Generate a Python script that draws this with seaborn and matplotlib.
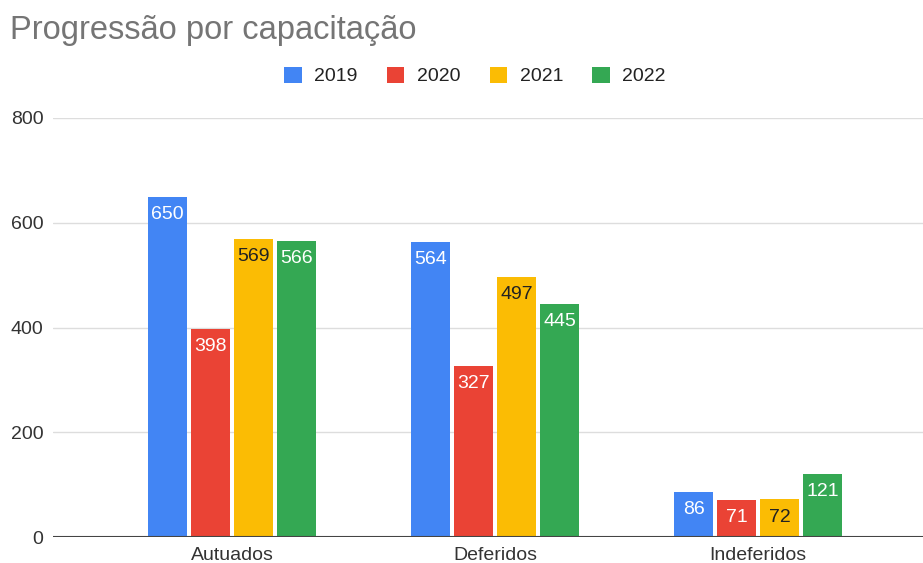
import pandas as pd
import numpy as np
import matplotlib.pyplot as plt
import seaborn as sns

categories = ["Autuados", "Deferidos", "Indeferidos"]
years = ["2019", "2020", "2021", "2022"]
v2019 = [650, 564, 86]
v2020 = [398, 327, 71]
v2021 = [569, 497, 72]
v2022 = [566, 445, 121]
yticks = [0, 200, 400, 600, 800]

colors = ["#4285F4", "#EA4335", "#FBBC04", "#34A853"]
label_colors = ["white", "white", "#222222", "white"]

df = pd.DataFrame({
    "Categoria": categories * 4,
    "Ano": [y for y in years for _ in categories],
    "Valor": v2019 + v2020 + v2021 + v2022,
})

sns.set_theme(style="white")
plt.rcParams['font.family'] = ['Liberation Sans', 'DejaVu Sans']

fig = plt.figure(figsize=(9.23, 5.63), dpi=100)
ax = fig.add_axes([53 / 923, 26 / 563, 1 - 53 / 923, (537 - 118) / 563])

sns.barplot(data=df, x="Categoria", y="Valor", hue="Ano", order=categories,
            hue_order=years, palette=colors, width=0.654, gap=0.09,
            saturation=1, linewidth=0, ax=ax, legend=True)

for cont, lc in zip(ax.containers, label_colors):
    ax.bar_label(cont, labels=[str(int(b.get_height())) for b in cont],
                 padding=-19, color=lc, fontsize=14)

ax.set_ylim(0, 800)
ax.set_xlim(-0.681, 2.627)
ax.set_yticks(yticks)
ax.set_yticklabels([str(t) for t in yticks])
ax.grid(axis="y", color="#dddddd", linewidth=1)
ax.set_axisbelow(True)
for s in ["top", "right", "left", "bottom"]:
    ax.spines[s].set_visible(False)
ax.axhline(0, color="#444444", linewidth=1.5, zorder=3)
ax.tick_params(axis="y", length=0, pad=7, labelsize=14, labelcolor="#333333")
ax.tick_params(axis="x", length=0, pad=7, labelsize=14, labelcolor="#333333")
ax.set_xlabel("")
ax.set_ylabel("")

handles, labels = ax.get_legend_handles_labels()
ax.get_legend().remove()
fig.legend(handles, labels, loc="center", bbox_to_anchor=(475 / 923, 1 - 76 / 563),
           ncol=4, frameon=False, fontsize=14, handlelength=0.9, handleheight=0.9,
           handletextpad=0.65, columnspacing=1.5, labelcolor="#222222")

fig.text(10 / 923, 1 - 39 / 563, "Progressão por capacitação", fontsize=23.5,
         color="#757575", ha="left", va="baseline")

fig.savefig("out.png", dpi=100)
